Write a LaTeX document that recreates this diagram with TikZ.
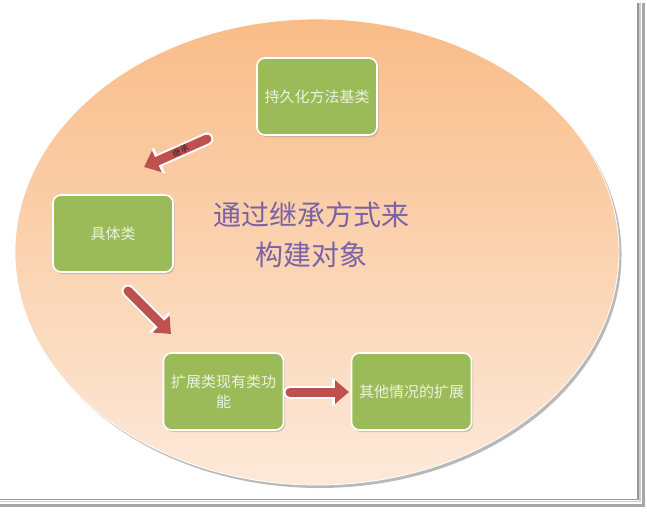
\documentclass[tikz,border=0pt]{standalone}
\usepackage{fontspec}
\newfontfamily\cjk{Noto Sans CJK SC}
\usepackage{tikz}
\usetikzlibrary{arrows.meta,shadows}
\definecolor{boxgreen}{RGB}{155,187,89}
\definecolor{boxtext}{RGB}{236,242,222}
\definecolor{arrowred}{RGB}{192,80,77}
\definecolor{titlepurple}{RGB}{122,98,165}
\definecolor{ovaltop}{RGB}{249,188,136}
\definecolor{ovalbottom}{RGB}{253,233,217}
\tikzset{
	stagebox/.style={draw=white, line width=1.6pt, fill=boxgreen, rounded corners=8pt,
		minimum width=120pt, minimum height=77pt, align=center, text=boxtext,
		font=\cjk\fontsize{15}{20}\selectfont,
		drop shadow={shadow xshift=1.5pt, shadow yshift=-2pt, opacity=0.35}},
	arrowrim/.style={white, line width=13pt, line cap=round, -{Triangle[width=28pt,length=17pt]}},
	arrowbody/.style={arrowred, line width=9pt, line cap=round, -{Triangle[width=23pt,length=14pt]}}
}

\begin{document}
\begin{tikzpicture}[x=1pt, y=-1pt]
			%%%%% START %%%%%
			
			\useasboundingbox (0, 0) rectangle (647, 511);
			\fill[white] (0, 0) rectangle (647, 511);
			
			% frame
			\draw[gray!80, line width=1.5pt] (638, 3) -- (638, 499.5) -- (0, 499.5);
			\draw[gray!40, line width=1.5pt] (640, 3) -- (640, 501.5) -- (0, 501.5);
			\draw[gray!70, line width=3pt] (643, 3) -- (643, 505) -- (0, 505);
			
			% oval
			\fill[gray!55] (319.5, 255) ellipse (302 and 233);
			\shade[top color=ovaltop, bottom color=ovalbottom, draw=white, line width=0.8pt] (317, 252) ellipse (302 and 233);
			
			\node[stagebox] (base) at (317, 96.5) {持久化方法基类};
			\node[stagebox] (concrete) at (113, 233.5) {具体类};
			\node[stagebox] (extend) at (223.5, 391.5) {扩展类现有类功\\能};
			\node[stagebox] (other) at (411.5, 391.5) {其他情况的扩展};
			
			\node[text=titlepurple, align=center, font=\cjk\fontsize{28}{40}\selectfont] (title) at (311, 235) {通过继承方式来\\构建对象};
			
			% arrows
			\coordinate (inhS) at (207, 139);
			\coordinate (inhE) at (144, 167);
			\coordinate (downS) at (128, 291);
			\coordinate (downE) at (171, 334);
			\coordinate (rightS) at (290, 392);
			\coordinate (rightE) at (349, 392);
			
			\draw[arrowrim] (inhS) -- (inhE);
			\draw[arrowbody] (inhS) -- (inhE) node[pos=0.42, sloped, inner sep=0pt, text=black!85, font=\cjk\fontsize{8.5}{9}\selectfont] (inhlabel) {继承};
			\draw[arrowrim] (downS) -- (downE);
			\draw[arrowbody] (downS) -- (downE);
			\draw[arrowrim] (rightS) -- (rightE);
			\draw[arrowbody] (rightS) -- (rightE);
			
			%%%%% END %%%%%
		\end{tikzpicture}
\end{document}
